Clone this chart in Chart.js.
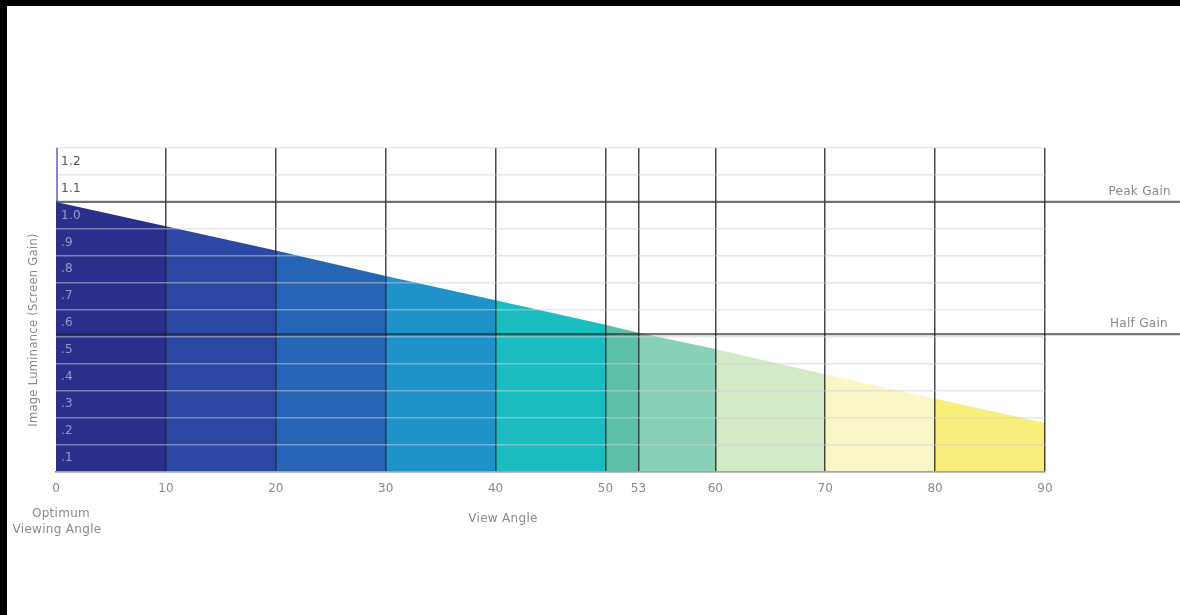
<!DOCTYPE html>
<html>
<head>
<meta charset="utf-8">
<script src="https://cdn.jsdelivr.net/npm/chart.js@4.4.0/dist/chart.umd.min.js"></script>
<style>
  body { margin: 0; background: #fff; }
  #wrap { position: relative; width: 1180px; height: 615px; overflow: hidden; }
  .bar { position: absolute; background: #000; }
</style>
</head>
<body>
<div id="wrap">
  <canvas id="gain-chart" width="1180" height="615"></canvas>
  <div class="bar" style="left:0;top:0;width:1180px;height:6px"></div>
  <div class="bar" style="left:0;top:0;width:7px;height:615px"></div>
</div>
<script>
// view angle breakpoints and screen gain read at each one
const angles = [0, 10, 20, 30, 40, 50, 53, 60, 70, 80, 90];
const gain = [1.0, 0.91, 0.82, 0.725, 0.635, 0.545, 0.515, 0.455, 0.36, 0.27, 0.18];
const segmentColors = ['#2b2f8c', '#2c47a4', '#2664b6', '#1f92c9', '#1bbdc0',
                       '#5cc0a7', '#88d0b8', '#d4e9c6', '#fbf6c8', '#f8ee7c'];
const bandLabels = ['.1', '.2', '.3', '.4', '.5', '.6', '.7', '.8', '.9', '1.0', '1.1', '1.2'];
const peakGain = 1.0;
const halfGain = 0.51;

const datasets = segmentColors.map((color, i) => ({
    data: [{ x: angles[i], y: gain[i] }, { x: angles[i + 1], y: gain[i + 1] }],
    backgroundColor: color,
    borderWidth: 0,
    pointRadius: 0,
    fill: 'origin',
    tension: 0
}));

const FONT = '"DejaVu Sans", Verdana, sans-serif';

const overlay = {
    id: 'overlay',
    afterDraw(chart) {
        const ctx = chart.ctx;
        const area = chart.chartArea;
        const y = chart.scales.y;
        ctx.save();

        // lavender edge above the fill
        ctx.strokeStyle = '#8886d6';
        ctx.lineWidth = 2;
        ctx.beginPath();
        ctx.moveTo(area.left + 1, y.getPixelForValue(1.2));
        ctx.lineTo(area.left + 1, y.getPixelForValue(peakGain));
        ctx.stroke();

        // peak and half gain lines run past the plot
        ctx.strokeStyle = 'rgba(30,30,30,0.6)';
        ctx.lineWidth = 2.2;
        [peakGain, halfGain].forEach(v => {
            const py = y.getPixelForValue(v);
            ctx.beginPath();
            ctx.moveTo(area.left, py);
            ctx.lineTo(chart.width, py);
            ctx.stroke();
        });

        ctx.font = '12px ' + FONT;
        ctx.letterSpacing = '0.3px';
        ctx.fillStyle = '#8a8a8a';
        ctx.textAlign = 'right';
        ctx.textBaseline = 'middle';
        ctx.fillText('Peak Gain', 1171, y.getPixelForValue(peakGain) - 10);
        ctx.fillText('Half Gain', 1168, y.getPixelForValue(halfGain) - 10);

        // band labels inside the plot
        ctx.textAlign = 'left';
        bandLabels.forEach((lab, i) => {
            const v = (i + 0.5) * 0.1;
            ctx.fillStyle = v < peakGain ? 'rgba(255,255,255,0.5)' : '#555';
            ctx.fillText(lab, area.left + 5, y.getPixelForValue(v));
        });

        // axis titles
        ctx.fillStyle = '#8a8a8a';
        ctx.textAlign = 'center';
        ctx.fillText('Optimum', 61, 514);
        ctx.fillText('Viewing Angle', 57, 530);
        ctx.fillText('View Angle', 503, 519);

        ctx.font = '11.5px ' + FONT;
        ctx.translate(34, 330);
        ctx.rotate(-Math.PI / 2);
        ctx.fillText('Image Luminance (Screen Gain)', 0, 0);
        ctx.restore();
    }
};

new Chart(document.getElementById('gain-chart').getContext('2d'), {
    type: 'line',
    data: { datasets: datasets },
    options: {
        responsive: false,
        animation: false,
        layout: { padding: { left: 56, right: 135, top: 148, bottom: 109 } },
        plugins: { legend: { display: false }, tooltip: { enabled: false } },
        scales: {
            x: {
                type: 'linear',
                min: 0,
                max: 90,
                afterBuildTicks: axis => { axis.ticks = angles.map(v => ({ value: v })); },
                ticks: {
                    padding: 10,
                    color: '#8a8a8a',
                    font: { family: FONT, size: 12 },
                    maxRotation: 0,
                    autoSkip: false
                },
                grid: {
                    z: 1,
                    drawTicks: false,
                    color: ctx => ctx.tick && ctx.tick.value === 0 ? 'rgba(0,0,0,0)' : 'rgba(25,25,25,0.8)',
                    lineWidth: 1.5
                },
                border: { color: '#777', width: 1.5, z: 1 }
            },
            y: {
                min: 0,
                max: 1.2,
                ticks: { display: false, stepSize: 0.1 },
                grid: {
                    z: 1,
                    drawTicks: false,
                    color: 'rgba(205,205,220,0.5)',
                    lineWidth: 1.5
                },
                border: { display: false }
            }
        }
    },
    plugins: [overlay]
});
</script>
</body>
</html>
